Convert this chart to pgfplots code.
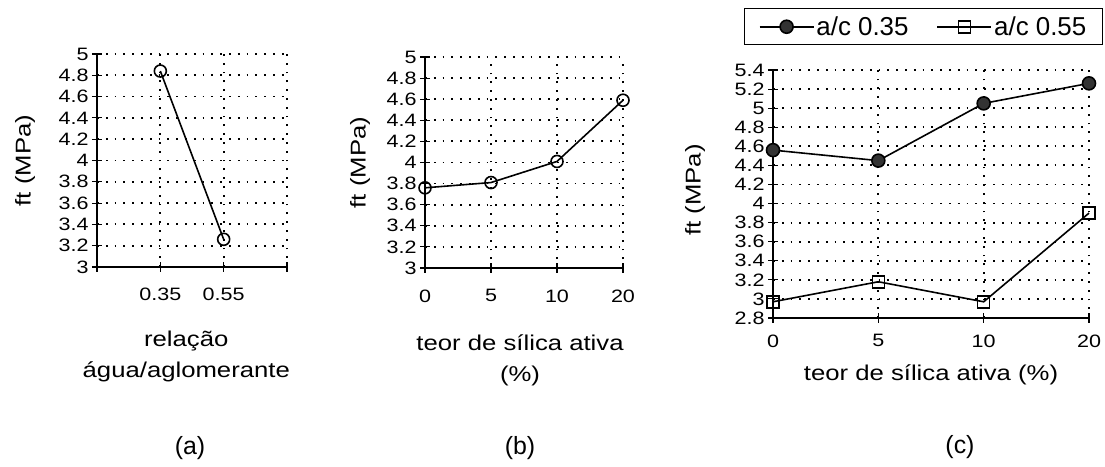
\documentclass[border=0pt]{standalone}
\usepackage{fontspec}
\setmainfont{Liberation Sans}[FakeStretch=1.2]
\newfontfamily\plainsans{Liberation Sans}
\usepackage{pgfplots}
\pgfplotsset{compat=1.18}
\pgfplotsset{
 myaxis/.style={
   scale only axis,
   axis x line=bottom, axis y line=left,
   axis line style={-, black, line width=1.3bp},
   x axis line style={line width=2bp},
   tick align=center,
   major tick length=10bp,
   tick style={black, line width=1.1bp},
   grid=major,
   major grid style={black, line width=1.8bp, dash pattern=on 1.8bp off 7bp},
   /pgf/number format/assume math mode=true,
   /pgf/number format/fixed, /pgf/number format/precision=1,
   ticklabel style={font=\fontsize{18}{19}\selectfont},
   label style={font=\fontsize{21.5}{31}\selectfont},
   every axis plot/.append style={black, line width=1.6bp},
   clip=false,
 }
}
\begin{document}
\begin{tikzpicture}
\path[use as bounding box] (0,0) rectangle (1105bp,467bp);
% (a)
\begin{axis}[myaxis, at={(97bp,200bp)}, anchor=south west,
  width=190bp, height=213bp,
  xmin=0, xmax=3, ymin=3, ymax=5,
  xtick={0,1,2,3}, xticklabels={,0.35,0.55,},
  xticklabel style={yshift=-12bp},
  ytick={3,3.2,3.4,3.6,3.8,4,4.2,4.4,4.6,4.8,5},
  xlabel={relação\\água/aglomerante},
  xlabel style={align=center, at={(axis description cs:0.47,-0.42)}, anchor=center},
  ylabel={ft (MPa)},
  ylabel style={at={(axis description cs:-0.379,0.5)}, anchor=center},
]
\addplot[mark=o, mark size=6bp, mark options={line width=1.6bp}] coordinates {(1,4.84) (2,3.26)};
\end{axis}
% (b)
\begin{axis}[myaxis, at={(425bp,199bp)}, anchor=south west,
  width=198bp, height=211bp,
  xmin=0, xmax=3, ymin=3, ymax=5,
  xtick={0,1,2,3}, xticklabels={0,5,10,20},
  xticklabel style={yshift=-13bp},
  ytick={3,3.2,3.4,3.6,3.8,4,4.2,4.4,4.6,4.8,5},
  xlabel={teor de sílica ativa\\(\%)},
  xlabel style={align=center, at={(axis description cs:0.48,-0.436)}, anchor=center},
  ylabel={ft (MPa)},
  ylabel style={at={(axis description cs:-0.328,0.5)}, anchor=center},
]
\addplot[mark=o, mark size=6bp, mark options={line width=1.6bp}] coordinates {(0,3.76) (1,3.81) (2,4.01) (3,4.59)};
\end{axis}
% (c)
\begin{axis}[myaxis, at={(773bp,149bp)}, anchor=south west,
  width=316bp, height=248bp,
  xmin=0, xmax=3, ymin=2.8, ymax=5.4,
  xtick={0,1,2,3}, xticklabels={0,5,10,20},
  xticklabel style={yshift=-8bp},
  ytick={2.8,3,3.2,3.4,3.6,3.8,4,4.2,4.4,4.6,4.8,5,5.2,5.4},
  xlabel={teor de sílica ativa (\%)},
  xlabel style={at={(axis description cs:0.5,-0.23)}, anchor=center},
  ylabel={ft (MPa)},
  ylabel style={at={(axis description cs:-0.247,0.516)}, anchor=center},
  legend columns=2,
  legend style={at={(axis description cs:1.044,1.25)}, anchor=north east,
    draw=black, line width=1.2bp, font=\plainsans\fontsize{26}{28}\selectfont,
    inner xsep=14bp, inner ysep=6bp,
    /tikz/every even column/.append style={column sep=26bp}},
  legend image code/.code={\draw[mark repeat=2, mark phase=2] plot coordinates {(0bp,0bp) (27bp,0bp) (54bp,0bp)};},
]
\addplot[mark=*, mark size=6.5bp, mark options={fill=black!80, draw=black}] coordinates {(0,4.56) (1,4.45) (2,5.05) (3,5.26)};
\addlegendentry{a/c 0.35}
\addplot[mark=square, mark size=6bp, mark options={line width=1.6bp}] coordinates {(0,2.97) (1,3.18) (2,2.97) (3,3.90)};
\addlegendentry{a/c 0.55}
\end{axis}
\node[font=\plainsans\fontsize{25}{27}\selectfont] at (190bp,19bp) {(a)};
\node[font=\plainsans\fontsize{25}{27}\selectfont] at (520bp,19bp) {(b)};
\node[font=\plainsans\fontsize{25}{27}\selectfont] at (960bp,20bp) {(c)};
\end{tikzpicture}
\end{document}
